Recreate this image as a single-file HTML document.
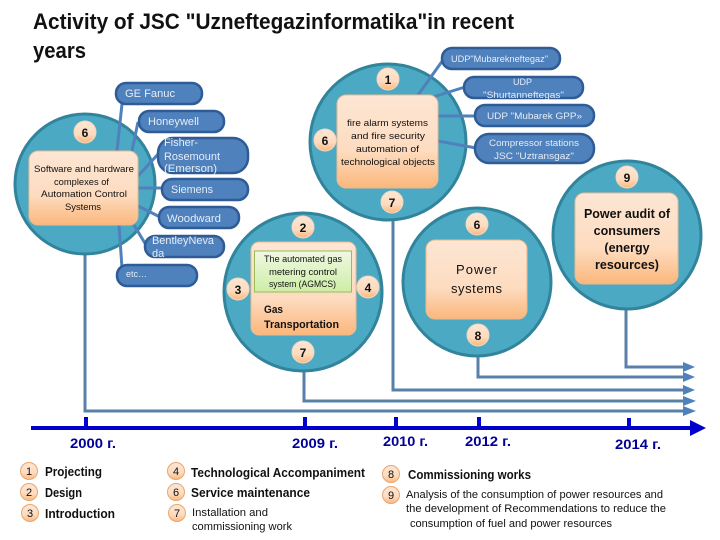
<!DOCTYPE html>
<html><head><meta charset="utf-8"><style>
html,body{margin:0;padding:0;background:#fff}
svg{display:block}
text{font-family:"Liberation Sans",sans-serif}
.w{fill:#e6edf6;font-size:11px}
.s{font-size:9px}
.k{fill:#111;font-size:9.5px}
.b{fill:#111;font-weight:bold}
.n{fill:#111;font-weight:bold;font-size:12px;text-anchor:middle}
.y{fill:#00009a;font-weight:bold;font-size:14px}
</style></head><body>
<svg width="720" height="540" viewBox="0 0 720 540" xmlns="http://www.w3.org/2000/svg">
<defs>
<linearGradient id="o" x1="0" y1="0" x2="0" y2="1"><stop offset="0" stop-color="#fde6d4"/><stop offset=".6" stop-color="#fddcc0"/><stop offset="1" stop-color="#fbb77c"/></linearGradient>
<linearGradient id="g" x1="0" y1="0" x2="0" y2="1"><stop offset="0" stop-color="#f0f8e2"/><stop offset="1" stop-color="#cdeea6"/></linearGradient>
<g id="bd"><circle r="11" fill="url(#o)" stroke="#f3d6bd" stroke-width="1"/></g>
<g id="lb"><circle r="8.5" fill="url(#o)" stroke="#e9a66f" stroke-width="1"/></g>
</defs>

<!-- Title -->
<text x="33" y="29" font-size="22" font-weight="bold" fill="#111" textLength="481" lengthAdjust="spacingAndGlyphs">Activity of JSC "Uzneftegazinformatika"in recent</text>
<text x="33" y="58" font-size="22" font-weight="bold" fill="#111" textLength="53" lengthAdjust="spacingAndGlyphs">years</text>

<!-- Connector lines to the timeline -->
<g fill="none" stroke="#5a80aa" stroke-width="3">
<path d="M85 250V411H690"/>
<path d="M304 370V401H690"/>
<path d="M393 215V390H690"/>
<path d="M478 355V377H690"/>
<path d="M626 305V367H690"/>
</g>
<g fill="#4f81bd">
<path d="M683 406L696 411L683 416Z"/>
<path d="M683 396L696 401L683 406Z"/>
<path d="M683 385L695 390L683 395Z"/>
<path d="M683 372L695 377L683 382Z"/>
<path d="M683 362L695 367L683 372Z"/>
</g>

<!-- Timeline -->
<g fill="#0000cc">
<rect x="31" y="426" width="301" height="4"/>
<rect x="330" y="426" width="360" height="4"/>
<rect x="84" y="417" width="4" height="11"/>
<rect x="303" y="417" width="4" height="11"/>
<rect x="394" y="417" width="4" height="11"/>
<rect x="477" y="417" width="4" height="11"/>
<rect x="627" y="418" width="4" height="10"/>
<path d="M690 420L706 428L690 436Z"/>
</g>
<text class="y" x="70" y="448" textLength="46" lengthAdjust="spacingAndGlyphs">2000 г.</text>
<text class="y" x="292" y="448" textLength="46" lengthAdjust="spacingAndGlyphs">2009 г.</text>
<text class="y" x="383" y="446" textLength="45" lengthAdjust="spacingAndGlyphs">2010 г.</text>
<text class="y" x="465" y="446" textLength="46" lengthAdjust="spacingAndGlyphs">2012 г.</text>
<text class="y" x="615" y="449" textLength="46" lengthAdjust="spacingAndGlyphs">2014 г.</text>

<!-- Circles -->
<g fill="#4ba9c4" stroke="#31849b" stroke-width="3">
<circle cx="85" cy="184" r="70"/>
<circle cx="388" cy="142" r="78"/>
<circle cx="303" cy="292" r="79"/>
<circle cx="477" cy="282" r="74"/>
<circle cx="627" cy="235" r="74"/>
</g>

<!-- Pill connectors -->
<g fill="none" stroke="#4f81bd" stroke-width="3">
<path d="M117 151L122 104"/>
<path d="M132 151L138 122"/>
<path d="M138 176L160 152"/>
<path d="M138 188H164"/>
<path d="M138 206L162 218"/>
<path d="M134 225L146 245"/>
<path d="M119 225L122 268"/>
<path d="M418 95L443 60"/>
<path d="M433 97L465 87"/>
<path d="M438 116H476"/>
<path d="M438 141L476 148"/>
</g>

<!-- Inner boxes -->
<g fill="url(#o)" stroke="#eeb98a" stroke-width="1">
<rect x="29" y="151" width="109" height="74" rx="9"/>
<rect x="337" y="95" width="101" height="93" rx="9"/>
<rect x="251" y="242" width="105" height="93" rx="8"/>
<rect x="426" y="240" width="101" height="79" rx="9"/>
<rect x="575" y="193" width="103" height="91" rx="9"/>
</g>
<rect x="254.500" y="251" width="97" height="41" fill="url(#g)" stroke="#9bbb59" stroke-width="1"/>

<!-- Pills -->
<g fill="#4f81bd" stroke="#2f5c96" stroke-width="2.500">
<rect x="116" y="83" width="86" height="21" rx="10"/>
<rect x="139" y="111" width="85" height="21" rx="10"/>
<rect x="158" y="138" width="90" height="35" rx="15"/>
<rect x="162" y="179" width="86" height="21" rx="10"/>
<rect x="159" y="207" width="80" height="21" rx="10"/>
<rect x="145" y="236" width="79" height="21" rx="10"/>
<rect x="117" y="265" width="80" height="21" rx="10"/>
<rect x="442" y="48" width="118" height="21" rx="10"/>
<rect x="464" y="77" width="119" height="21" rx="10"/>
<rect x="475" y="105" width="119" height="21" rx="10"/>
<rect x="475" y="134" width="119" height="29" rx="14"/>
</g>

<!-- Pill labels -->
<text class="w" x="125" y="97" textLength="50" lengthAdjust="spacingAndGlyphs">GE Fanuc</text>
<text class="w" x="148" y="125" textLength="51" lengthAdjust="spacingAndGlyphs">Honeywell</text>
<text class="w" x="164" y="146" textLength="34" lengthAdjust="spacingAndGlyphs">Fisher-</text>
<text class="w" x="164" y="160" textLength="56" lengthAdjust="spacingAndGlyphs">Rosemount</text>
<text class="w" x="164" y="172" textLength="53" lengthAdjust="spacingAndGlyphs">(Emerson)</text>
<text class="w" x="171" y="193" textLength="42" lengthAdjust="spacingAndGlyphs">Siemens</text>
<text class="w" x="167" y="222" textLength="54" lengthAdjust="spacingAndGlyphs">Woodward</text>
<text class="w" x="152" y="244" textLength="62" lengthAdjust="spacingAndGlyphs">BentleyNeva</text>
<text class="w" x="152" y="257">da</text>
<text class="w s" x="126" y="277" textLength="21" lengthAdjust="spacingAndGlyphs">etc…</text>
<text class="w s" x="451" y="62" textLength="97" lengthAdjust="spacingAndGlyphs">UDP"Mubarekneftegaz"</text>
<text class="w s" x="513" y="85">UDP</text>
<text class="w s" x="483" y="98" textLength="81" lengthAdjust="spacingAndGlyphs">"Shurtanneftegas"</text>
<text class="w s" x="487" y="119" textLength="95" lengthAdjust="spacingAndGlyphs">UDP "Mubarek GPP»</text>
<text class="w s" x="489" y="146" textLength="90" lengthAdjust="spacingAndGlyphs">Compressor stations</text>
<text class="w s" x="494" y="159" textLength="80" lengthAdjust="spacingAndGlyphs">JSC "Uztransgaz"</text>

<!-- Box labels -->
<text class="k" x="34" y="172" textLength="100" lengthAdjust="spacingAndGlyphs">Software and hardware</text>
<text class="k" x="54" y="185" textLength="55" lengthAdjust="spacingAndGlyphs">complexes of</text>
<text class="k" x="41" y="197" textLength="86" lengthAdjust="spacingAndGlyphs">Automation Control</text>
<text class="k" x="65" y="210" textLength="36" lengthAdjust="spacingAndGlyphs">Systems</text>
<text class="k" x="347" y="126" textLength="81" lengthAdjust="spacingAndGlyphs">fire alarm systems</text>
<text class="k" x="351" y="139" textLength="74" lengthAdjust="spacingAndGlyphs">and fire  security</text>
<text class="k" x="356" y="152" textLength="63" lengthAdjust="spacingAndGlyphs">automation of</text>
<text class="k" x="341" y="165" textLength="94" lengthAdjust="spacingAndGlyphs">technological objects</text>
<text class="k" x="264" y="262" textLength="78" lengthAdjust="spacingAndGlyphs">The automated gas</text>
<text class="k" x="269" y="275" textLength="68" lengthAdjust="spacingAndGlyphs">metering control</text>
<text class="k" x="269" y="287" textLength="67" lengthAdjust="spacingAndGlyphs">system (AGMCS)</text>
<text class="b" font-size="11" x="264" y="313" textLength="19" lengthAdjust="spacingAndGlyphs">Gas</text>
<text class="b" font-size="11" x="264" y="328" textLength="75" lengthAdjust="spacingAndGlyphs">Transportation</text>
<text x="456" y="274" font-size="13" fill="#111" textLength="41">Power</text>
<text x="451" y="293" font-size="13" fill="#111" textLength="51">systems</text>
<g class="b" font-size="12.500" text-anchor="middle">
<text x="627" y="218">Power audit of</text>
<text x="627" y="235">consumers</text>
<text x="627" y="252">(energy</text>
<text x="627" y="269">resources)</text>
</g>

<!-- Numbered badges -->
<use href="#bd" x="85" y="132"/><text class="n" x="85" y="137">6</text>
<use href="#bd" x="388" y="79"/><text class="n" x="388" y="84">1</text>
<use href="#bd" x="325" y="140"/><text class="n" x="325" y="145">6</text>
<use href="#bd" x="392" y="202"/><text class="n" x="392" y="207">7</text>
<use href="#bd" x="303" y="227"/><text class="n" x="303" y="232">2</text>
<use href="#bd" x="238" y="289"/><text class="n" x="238" y="294">3</text>
<use href="#bd" x="368" y="287"/><text class="n" x="368" y="292">4</text>
<use href="#bd" x="303" y="352"/><text class="n" x="303" y="357">7</text>
<use href="#bd" x="477" y="224"/><text class="n" x="477" y="229">6</text>
<use href="#bd" x="478" y="335"/><text class="n" x="478" y="340">8</text>
<use href="#bd" x="627" y="177"/><text class="n" x="627" y="182">9</text>

<!-- Legend -->
<use href="#lb" x="29" y="471"/><text x="29" y="475" font-size="11" text-anchor="middle" fill="#111">1</text>
<use href="#lb" x="29" y="492"/><text x="29" y="496" font-size="11" text-anchor="middle" fill="#111">2</text>
<use href="#lb" x="30" y="513"/><text x="30" y="517" font-size="11" text-anchor="middle" fill="#111">3</text>
<use href="#lb" x="176" y="471"/><text x="176" y="475" font-size="11" text-anchor="middle" fill="#111">4</text>
<use href="#lb" x="176" y="492"/><text x="176" y="496" font-size="11" text-anchor="middle" fill="#111">6</text>
<use href="#lb" x="177" y="513"/><text x="177" y="517" font-size="11" text-anchor="middle" fill="#111">7</text>
<use href="#lb" x="391" y="474"/><text x="391" y="478" font-size="11" text-anchor="middle" fill="#111">8</text>
<use href="#lb" x="391" y="495"/><text x="391" y="499" font-size="11" text-anchor="middle" fill="#111">9</text>
<g fill="#111" font-size="12.500" font-weight="bold">
<text x="45" y="476" textLength="57" lengthAdjust="spacingAndGlyphs">Projecting</text>
<text x="45" y="497" textLength="37" lengthAdjust="spacingAndGlyphs">Design</text>
<text x="45" y="518" textLength="70" lengthAdjust="spacingAndGlyphs">Introduction</text>
<text x="191" y="477" textLength="174" lengthAdjust="spacingAndGlyphs">Technological Accompaniment</text>
<text x="191" y="497" textLength="119" lengthAdjust="spacingAndGlyphs">Service maintenance</text>
<text x="408" y="479" textLength="123" lengthAdjust="spacingAndGlyphs">Commissioning works</text>
</g>
<g fill="#111" font-size="11">
<text x="192" y="516" textLength="76" lengthAdjust="spacingAndGlyphs">Installation and</text>
<text x="192" y="530" textLength="100" lengthAdjust="spacingAndGlyphs">commissioning work</text>
<text x="406" y="498" textLength="257" lengthAdjust="spacingAndGlyphs">Analysis of the consumption of power resources and</text>
<text x="406" y="512" textLength="260" lengthAdjust="spacingAndGlyphs">the development of Recommendations to reduce the</text>
<text x="410" y="527" textLength="202" lengthAdjust="spacingAndGlyphs">consumption of fuel and power resources</text>
</g>
</svg>
</body></html>
